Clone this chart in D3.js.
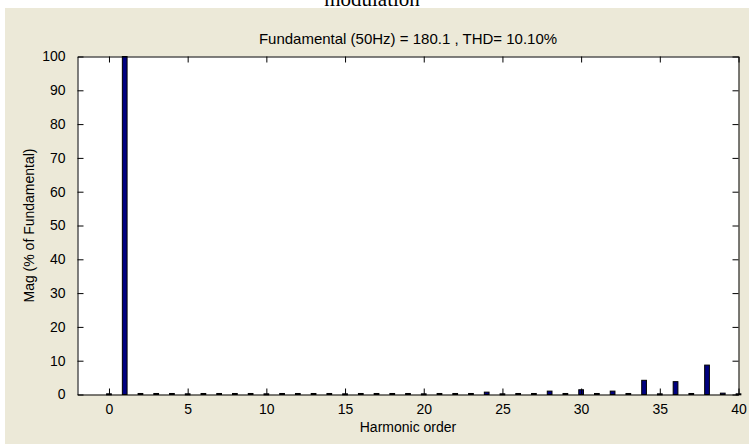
<!DOCTYPE html>
<html>
<head>
<meta charset="utf-8">
<script src="https://cdn.jsdelivr.net/npm/d3@7"></script>
<style>
  body { margin: 0; background: #fff; }
  text { font-family: "Liberation Sans", Arial, sans-serif; }
</style>
</head>
<body>
<div class="chart"></div>
<script>
// harmonic spectrum
let order = [0, 1, 2, 3, 4, 5, 6, 7, 8, 9, 10, 11, 12, 13, 14, 15, 16, 17, 18, 19, 20,
             21, 22, 23, 24, 25, 26, 27, 28, 29, 30, 31, 32, 33, 34, 35, 36, 37, 38, 39, 40];
let mag = [0.2, 100, 0.3, 0.3, 0.3, 0.2, 0.3, 0.3, 0.3, 0.3, 0.2, 0.3, 0.3, 0.3, 0.3, 0.2,
           0.3, 0.3, 0.3, 0.3, 0.2, 0.3, 0.3, 0.3, 0.7, 0.2, 0.3, 0.3, 1.0, 0.3, 1.4,
           0.3, 1.0, 0.3, 4.2, 0.2, 3.8, 0.3, 8.7, 0.4, 0.2];
let xTicks = [0, 5, 10, 15, 20, 25, 30, 35, 40];
let yTicks = [0, 10, 20, 30, 40, 50, 60, 70, 80, 90, 100];
let title = "Fundamental (50Hz) = 180.1 , THD= 10.10%";

var W = 749, H = 444;
var pLeft = 77.5, pRight = 738.5, pTop = 56.5, pBottom = 394.5;

let svg = d3.select('.chart')
    .append('svg')
    .attr('width', W)
    .attr('height', H);

// figure background
svg.append('rect')
    .attr('x', 5).attr('y', 8)
    .attr('width', W - 5).attr('height', H - 8)
    .attr('fill', '#ece9d8');

// caption cut off at the top of the page
svg.append('text')
    .attr('x', 372).attr('y', 6)
    .attr('text-anchor', 'middle')
    .style('font-family', '"Liberation Serif", "Times New Roman", serif')
    .style('font-size', '21px')
    .text('modulation');

let x = d3.scaleLinear().domain([-2, 40]).range([pLeft, pRight]);
let y = d3.scaleLinear().domain([0, 100]).range([pBottom, pTop]);

svg.append('rect')
    .attr('x', pLeft).attr('y', pTop)
    .attr('width', pRight - pLeft).attr('height', pBottom - pTop)
    .attr('fill', '#fff');

let bw = x(0.3) - x(0);
svg.selectAll('.bar')
    .data(order)
    .enter()
    .append('rect')
    .classed('bar', true)
    .attr('x', (d) => x(d) - bw / 2)
    .attr('y', (d, i) => y(mag[i]))
    .attr('width', bw)
    .attr('height', (d, i) => Math.max(pBottom - y(mag[i]), 1))
    .attr('fill', '#000080')
    .attr('stroke', '#000')
    .attr('stroke-width', 1);

// axes, ticks pointing inward on all four sides
let tl = 6;
let g = svg.append('g');
g.append('g')
    .attr('transform', `translate(0,${pBottom})`)
    .call(d3.axisBottom(x).tickValues(xTicks).tickSizeInner(-tl).tickSizeOuter(0).tickPadding(10));
g.append('g')
    .attr('transform', `translate(0,${pTop})`)
    .call(d3.axisTop(x).tickValues(xTicks).tickSizeInner(-tl).tickSizeOuter(0).tickFormat(''));
g.append('g')
    .attr('transform', `translate(${pLeft},0)`)
    .call(d3.axisLeft(y).tickValues(yTicks).tickSizeInner(-tl).tickSizeOuter(0).tickPadding(12));
g.append('g')
    .attr('transform', `translate(${pRight},0)`)
    .call(d3.axisRight(y).tickValues(yTicks).tickSizeInner(-tl).tickSizeOuter(0).tickFormat(''));

g.selectAll('.domain').attr('stroke', '#000');
g.selectAll('.tick line').attr('stroke', '#000');
g.selectAll('.tick text')
    .attr('fill', '#000')
    .style('font-size', '14px')
    .style('font-family', '"Liberation Sans", Arial, sans-serif');

svg.append('text')
    .attr('x', (pLeft + pRight) / 2).attr('y', 44)
    .attr('text-anchor', 'middle')
    .style('font-size', '15px')
    .text(title);

svg.append('text')
    .attr('x', (pLeft + pRight) / 2).attr('y', 432)
    .attr('text-anchor', 'middle')
    .style('font-size', '14px')
    .text('Harmonic order');

svg.append('text')
    .attr('transform', `translate(34,${(pTop + pBottom) / 2}) rotate(-90)`)
    .attr('text-anchor', 'middle')
    .style('font-size', '14px')
    .text('Mag (% of Fundamental)');
</script>
</body>
</html>
